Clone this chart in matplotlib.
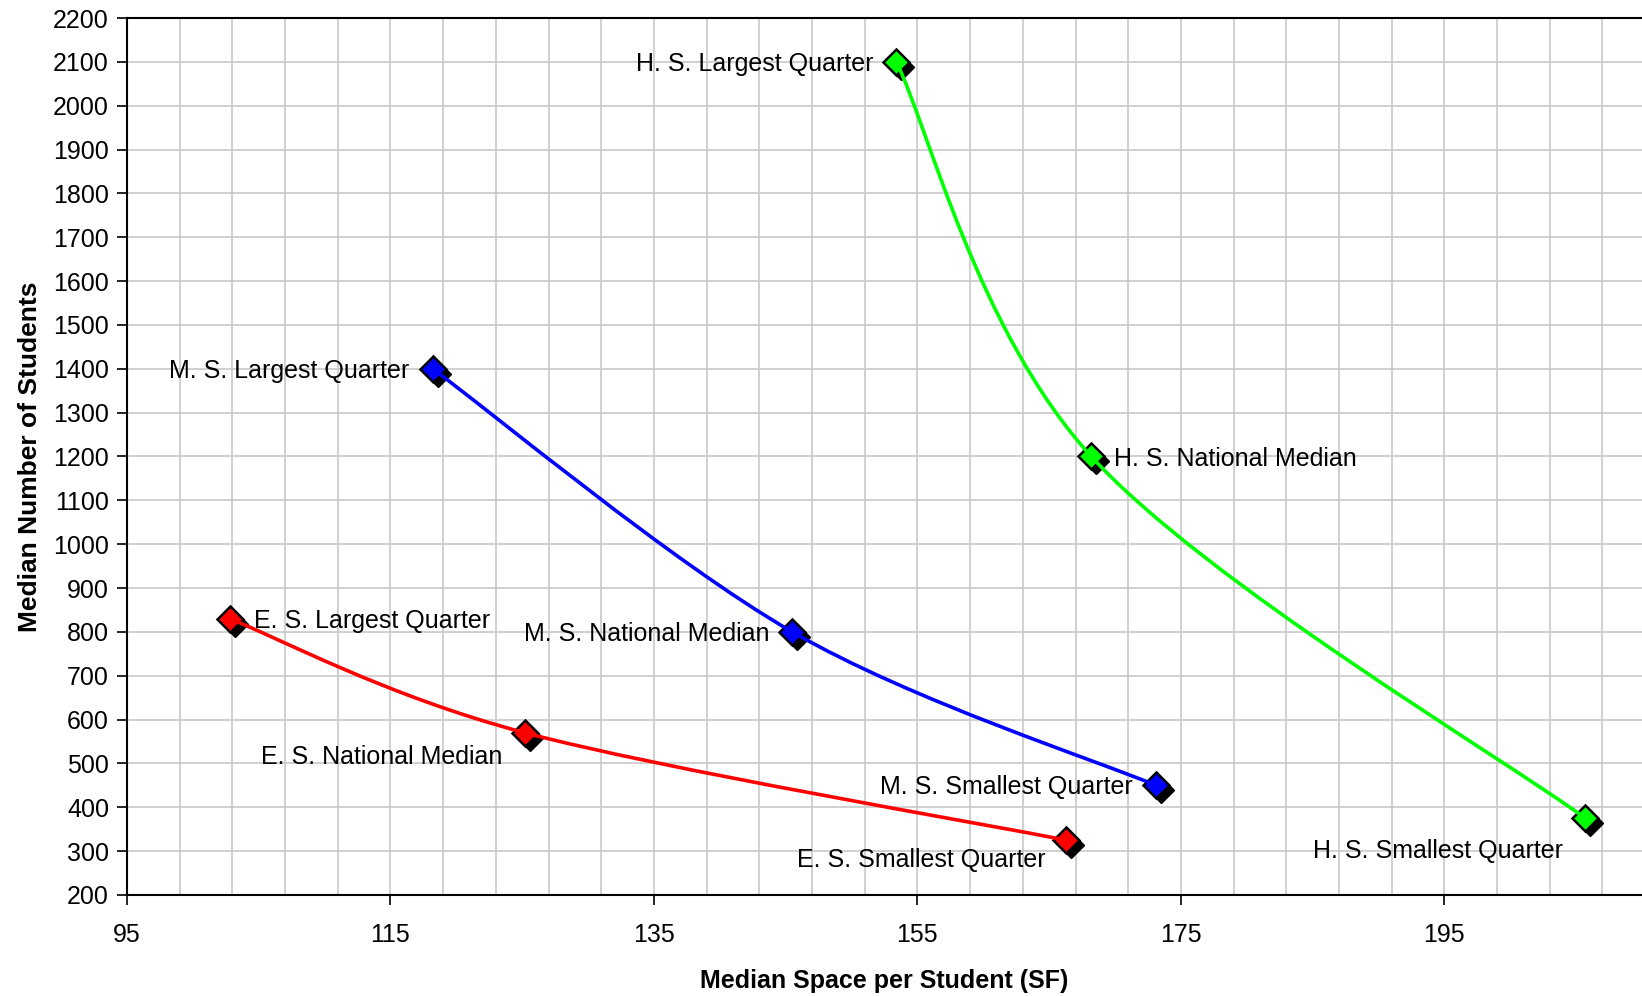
import numpy as np
import matplotlib
matplotlib.use("Agg")
import matplotlib.pyplot as plt
from matplotlib.path import Path
from matplotlib.patches import PathPatch
from matplotlib.transforms import ScaledTranslation

plt.rcParams['font.family'] = ['Liberation Sans', 'DejaVu Sans']

# ---- data ----
es_x = [102.8, 125.2, 166.3]
es_y = [830, 570, 325]
ms_x = [118.2, 145.5, 173.1]
ms_y = [1400, 800, 450]
hs_x = [153.4, 168.2, 205.7]
hs_y = [2100, 1200, 375]

es_labels = ["E. S. Largest Quarter", "E. S. National Median", "E. S. Smallest Quarter"]
ms_labels = ["M. S. Largest Quarter", "M. S. National Median", "M. S. Smallest Quarter"]
hs_labels = ["H. S. Largest Quarter", "H. S. National Median", "H. S. Smallest Quarter"]

# label offsets (pixels) and alignment: (dx, dy, ha)
es_offsets = [(24, -2, 'left'), (-22, -24, 'right'), (-21, -20, 'right')]
ms_offsets = [(-23, -2, 'right'), (-23, -2, 'right'), (-23, -2, 'right')]
hs_offsets = [(-23, -2, 'right'), (23, -2, 'left'), (-22, -33, 'right')]

xticks = [95, 115, 135, 155, 175, 195]
yticks = list(range(200, 2201, 100))

W, H = 1642, 996
fig = plt.figure(figsize=(W / 100, H / 100), dpi=100)
ax = fig.add_axes([127 / W, 1 - 895 / H, 1 - 127 / W, (895 - 18) / H])
ax.set_xlim(95, 210)
ax.set_ylim(200, 2200)

ax.set_xticks(xticks)
ax.set_xticks(np.arange(99, 210, 4), minor=True)
ax.set_yticks(yticks)
ax.grid(True, which='both', axis='x', color='#c8c8c8', lw=1.2)
ax.grid(True, which='major', axis='y', color='#c8c8c8', lw=1.2)
ax.tick_params(axis='x', which='minor', length=0)
ax.tick_params(axis='x', which='major', direction='out', length=7, width=1.2, pad=13, labelsize=18)
ax.tick_params(axis='y', direction='out', length=7, width=1.2, pad=6, labelsize=18)
ax.set_axisbelow(True)
for s in ['left', 'bottom', 'top']:
    ax.spines[s].set_linewidth(1.5)
    ax.spines[s].set_color('black')
ax.spines['right'].set_visible(False)

ax.set_xlabel("Median Space per Student (SF)", fontsize=18, fontweight='bold', labelpad=16)
ax.set_ylabel("Median Number of Students", fontsize=19, fontweight='bold', labelpad=8)


def smooth_path(xs, ys):
    pts = np.column_stack([xs, ys]).astype(float)
    n = len(pts)
    verts = [pts[0]]
    codes = [Path.MOVETO]
    for i in range(n - 1):
        p0 = pts[max(i - 1, 0)]
        p1 = pts[i]
        p2 = pts[i + 1]
        p3 = pts[min(i + 2, n - 1)]
        c1 = p1 + (p2 - p0) / 6.0
        c2 = p2 - (p3 - p1) / 6.0
        verts += [c1, c2, p2]
        codes += [Path.CURVE4] * 3
    return Path(verts, codes)


shadow = ax.transData + ScaledTranslation(5 / 100, -5 / 100, fig.dpi_scale_trans)

series = [
    (es_x, es_y, '#ff0000', es_labels, es_offsets),
    (ms_x, ms_y, '#0000ff', ms_labels, ms_offsets),
    (hs_x, hs_y, '#00ff00', hs_labels, hs_offsets),
]

for xs, ys, col, labels, offs in series:
    ax.plot(xs, ys, 'D', ms=13.5, color='black', mec='black', transform=shadow, zorder=3, clip_on=False)
    ax.plot(xs, ys, 'D', ms=13.5, color=col, mec='black', mew=1.8, zorder=4, clip_on=False)
    ax.add_patch(PathPatch(smooth_path(xs, ys), fc='none', ec=col, lw=2.6, zorder=5))
    for x, y, lab, (dx, dy, ha) in zip(xs, ys, labels, offs):
        ax.annotate(lab, (x, y), xytext=(dx, dy), textcoords='offset pixels',
                    ha=ha, va='center', fontsize=18, zorder=6)

fig.savefig("out.png", dpi=100)
